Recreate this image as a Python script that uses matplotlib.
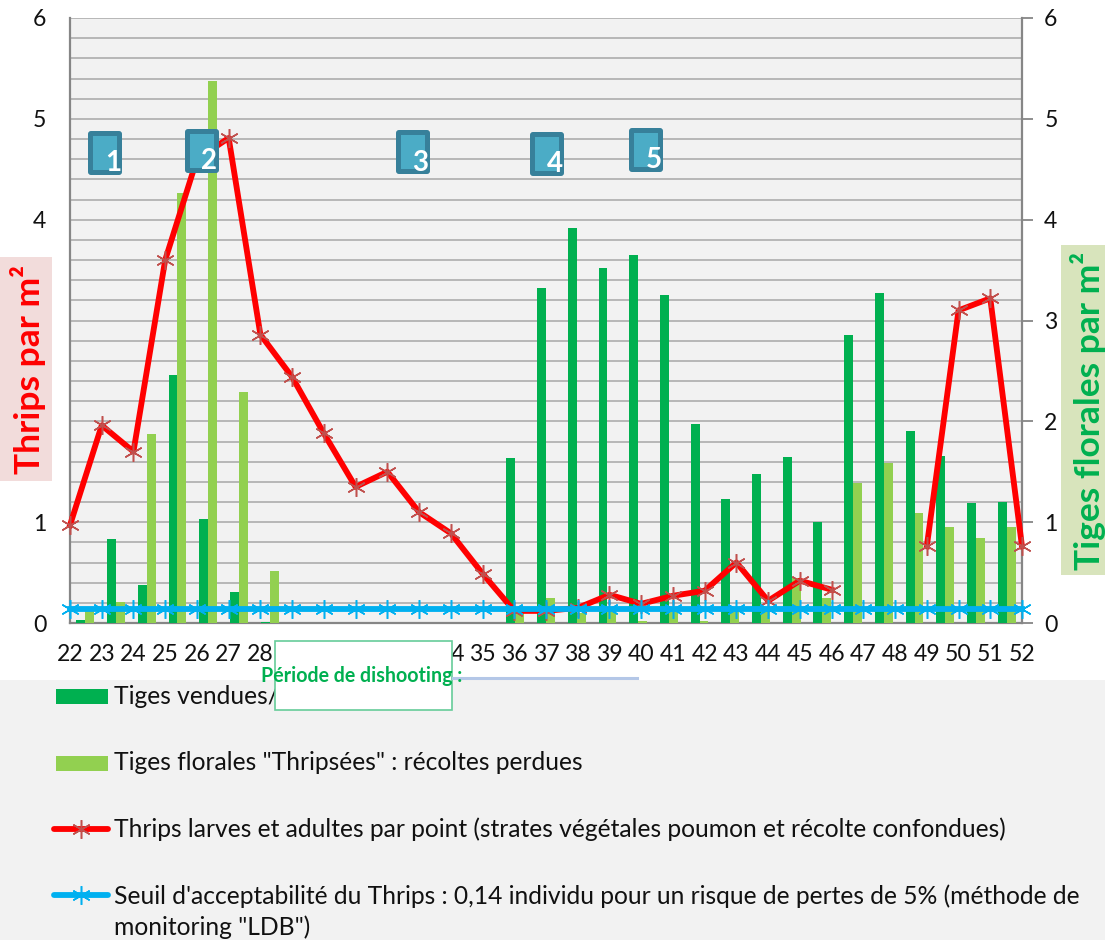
import numpy as np
import matplotlib
matplotlib.use("Agg")
import matplotlib.pyplot as plt
from matplotlib.lines import Line2D
from matplotlib.patches import Rectangle, FancyBboxPatch
from matplotlib.transforms import IdentityTransform

plt.rcParams['font.family'] = ['Lato', 'DejaVu Sans']

weeks = list(range(22, 53))
tiges_vendues = [0.03, 0.83, 0.38, 2.46, 1.03, 0.31, 0.01, 0, 0, 0, 0, 0, 0, 0,
                 1.64, 3.32, 3.92, 3.52, 3.65, 3.25, 1.97, 1.23, 1.48, 1.65, 1.00,
                 2.86, 3.27, 1.90, 1.66, 1.19, 1.20]
tiges_thripsees = [0.13, 0.21, 1.87, 4.26, 5.38, 2.29, 0.52, 0, 0, 0, 0, 0, 0, 0,
                   0.10, 0.25, 0.10, 0.13, 0.02, 0.13, 0.02, 0.12, 0.15, 0.45, 0.25,
                   1.39, 1.59, 1.09, 0.95, 0.84, 0.95]
thrips = [0.97, 1.96, 1.70, 3.60, 4.60, 4.81, 2.86, 2.44, 1.88, 1.35, 1.50, 1.10, 0.89, 0.49,
          0.12, 0.12, 0.15, 0.28, 0.19, 0.27, 0.32, 0.60, 0.22, 0.42, 0.33,
          np.nan, np.nan, 0.76, 3.10, 3.22, 0.76]
seuil = [0.14] * 31
y_ticks = [0, 1, 2, 3, 4, 5, 6]
left_labels = ['0', '1', '', '', '4', '5', '6']
badges = ['1', '2', '3', '4', '5']
legend_texts = ['Tiges vendues/',
                'Tiges florales "Thripsées" : récoltes perdues',
                'Thrips larves et adultes par point (strates végétales poumon et récolte confondues)',
                'Seuil d\'acceptabilité du Thrips : 0,14 individu pour un risque de pertes de 5% (méthode de\nmonitoring "LDB")']

W, H = 1105, 940
DARK, LIGHT, RED, BLUE = '#00B050', '#92D050', '#FF0000', '#00B0F0'
MRED = '#C0504D'
GREY = '#868686'
FS = 16.6
FL = 17.75
LW = 4.2
MS = 13.5
MEW = 1.1
fig = plt.figure(figsize=(W / 100, H / 100), dpi=100, facecolor='white')

def fx(x): return x / W
def fy(y): return 1 - y / H

pos = [fx(70), fy(623), fx(1022) - fx(70), fy(18) - fy(623)]
ax = fig.add_axes(pos, zorder=1)
ax.set_facecolor('#F2F2F2')
ax.set_xlim(0, 31)
ax.set_ylim(0, 6)
x = np.arange(31) + 0.5
bw = 8.9 / 30.7
ax.bar(x - bw / 2, tiges_vendues, bw, color=DARK, zorder=3, label=legend_texts[0])
ax.bar(x + bw / 2, tiges_thripsees, bw, color=LIGHT, zorder=3, label=legend_texts[1])
ax.set_yticks(np.arange(0, 6.01, 0.2), minor=True)
ax.set_yticks(y_ticks)
ax.grid(True, which='both', axis='y', color='#B5B5B5', lw=1.35, zorder=1)
ax.set_axisbelow(True)
ax.set_yticklabels(left_labels, fontsize=FS, color='#111111')
ax.tick_params(axis='y', which='both', length=0, pad=17)
ax.set_xticks([])
for s in ['left', 'bottom', 'right']:
    ax.spines[s].set_color(GREY)
    ax.spines[s].set_linewidth(1.6)
ax.spines['top'].set_visible(False)

ax2 = fig.add_axes(pos, zorder=2, frameon=False)
ax2.set_xlim(0, 30)
ax2.set_ylim(0, 6)
star = (6, 2, 0)
xl = np.arange(31)
ax2.plot(xl, thrips, color=RED, lw=LW, zorder=4, clip_on=False, label=legend_texts[2])
ax2.plot(xl, thrips, ls='none', marker=star, ms=MS, mew=MEW, mec=MRED, color=MRED, zorder=5, clip_on=False)
ax2.plot(xl, seuil, color=BLUE, lw=LW, marker=star, ms=MS, mew=MEW, mec=BLUE, zorder=6, clip_on=False,
         label=legend_texts[3])
ax2.set_xticks(xl)
ax2.set_xticklabels([str(w) for w in weeks], fontsize=FS, color='#111111')
ax2.tick_params(axis='x', length=0, pad=15)
ax2.yaxis.tick_right()
ax2.set_yticks(y_ticks)
ax2.set_yticklabels([str(v) for v in y_ticks], fontsize=FS, color='#111111')
ax2.tick_params(axis='y', length=8, width=1.3, color=GREY, pad=8)

# grey legend band
fig.add_artist(Rectangle((0, 0), 1, fy(680), transform=fig.transFigure, fc='#F2F2F2', ec='none', zorder=0))

# period box
fig.add_artist(Rectangle((fx(275), fy(710)), fx(177), fy(641) - fy(710), transform=fig.transFigure,
                         fc='white', ec='#66CC99', lw=1.2, zorder=5))
fig.add_artist(Line2D([fx(453), fx(637)], [fy(678), fy(678)], color='#B4C7E7', lw=2.2, zorder=5))
fig.text(fx(361.5), fy(676.5), 'Période de dishooting :', color=DARK, fontsize=14.1, fontweight='bold',
         ha='center', va='center', zorder=6)

# legend
for y, c in [(696.5, DARK), (763.5, LIGHT)]:
    fig.add_artist(Rectangle((fx(56), fy(y + 7.5)), fx(52), fy(y - 7.5) - fy(y + 7.5), transform=fig.transFigure,
                             fc=c, ec='none', zorder=3))
for y, c, mc in [(829, RED, MRED), (895, BLUE, BLUE)]:
    fig.add_artist(Line2D([fx(54), fx(108)], [fy(y), fy(y)], color=c, lw=LW, zorder=3, solid_capstyle='round'))
    fig.add_artist(Line2D([fx(81)], [fy(y)], ls='none', marker=star, ms=MS, mew=MEW, mec=mc, zorder=4))
for y, t in zip([697, 763, 829], legend_texts[:3]):
    fig.text(fx(114), fy(y), t, fontsize=FL, color='#111111', va='center', ha='left', zorder=4)
fig.text(fx(114), fy(911.5), legend_texts[3], fontsize=FL, color='#111111', va='center', ha='left',
         linespacing=1.39, zorder=4)

# side titles
fig.add_artist(Rectangle((0, fy(481)), fx(52), fy(257) - fy(481), transform=fig.transFigure,
                         fc='#F2DCDB', ec='none', zorder=3))
fig.text(fx(28), fy(370), 'Thrips par m²', color='#FF0000', rotation=90, fontsize=25.5, fontweight='bold',
         ha='center', va='center', zorder=4)
fig.add_artist(Rectangle((fx(1061), fy(575)), fx(44), fy(245) - fy(575), transform=fig.transFigure,
                         fc='#D8E4BC', ec='none', zorder=3))
fig.text(fx(1088), fy(411), 'Tiges florales par m²', color=DARK, rotation=90, fontsize=25.5, fontweight='bold',
         ha='center', va='center', zorder=4)

# numbered badges
badge_boxes = [(88, 131, 113, 163), (185, 129, 209, 161), (396, 130, 420, 163),
               (530, 132, 555, 164), (629, 128, 654, 160)]
for (bx, by, tx, ty), label in zip(badge_boxes, badges):
    fig.add_artist(FancyBboxPatch((bx + 2, H - by - 42), 30, 40, boxstyle='round,pad=2,rounding_size=3',
                                  transform=IdentityTransform(), fc='#37809A', ec='none', zorder=7))
    fig.add_artist(Rectangle((fx(bx + 5), fy(by + 39)), fx(24), fy(by + 5) - fy(by + 39), transform=fig.transFigure,
                             fc='#4BACC6', ec='none', zorder=8))
    fig.text(fx(tx), fy(ty), label, color='white', fontsize=20, fontweight='bold', ha='center', va='center', zorder=9)

fig.savefig('out.png', dpi=100, facecolor='white')
